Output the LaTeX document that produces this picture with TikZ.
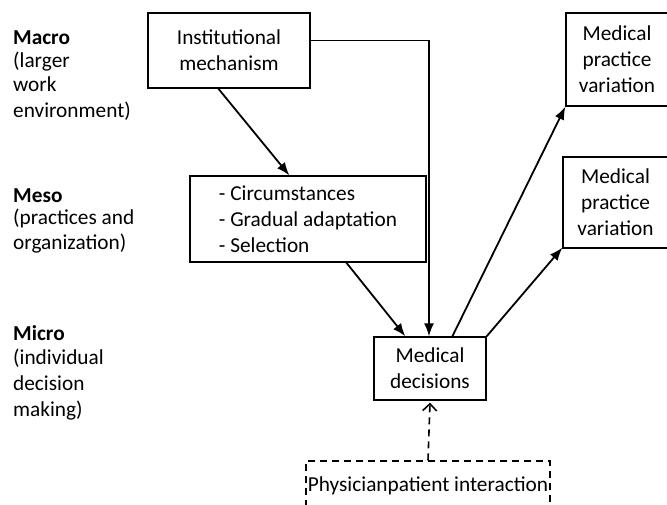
\documentclass[tikz,border=0pt]{standalone}
\usepackage{fontspec}
\setmainfont{Carlito}
\usetikzlibrary{arrows.meta}
\begin{document}
\begin{tikzpicture}[x=1pt,y=-1pt,
  txt/.style={font=\fontsize{21.3}{26}\selectfont, text=black},
  box/.style={txt, draw, line width=1.3pt, inner sep=0pt, align=center},
  lbl/.style={txt, anchor=base west, inner sep=0pt},
  arr/.style={line width=1.8pt, -{Latex[length=13pt,width=10pt]}},
  dasharr/.style={line width=1.6pt, dash pattern=on 7pt off 5pt, -{Straight Barb[length=7pt,width=14pt,line width=1.6pt]}},
]
\useasboundingbox (0,0) rectangle (667,505);
% left labels
\node[lbl] (macro) at (13,45) {\bfseries Macro};
\node[lbl] (macro2) at (13,68) {(larger};
\node[lbl] (macro3) at (13,92) {work};
\node[lbl] (macro4) at (13,118) {environment)};
\node[lbl] (meso) at (13,203) {\bfseries Meso};
\node[lbl] (meso2) at (13,225) {(practices and};
\node[lbl] (meso3) at (13,250) {organization)};
\node[lbl] (micro) at (13,341) {\bfseries Micro};
\node[lbl] (micro2) at (13,364) {(individual};
\node[lbl] (micro3) at (13,390) {decision};
\node[lbl] (micro4) at (13,416) {making)};
% boxes
\node[box, minimum width=162pt, minimum height=75pt] (inst) at (229,50.5) {Institutional\\mechanism};
\node[box, align=left, minimum width=236pt, minimum height=86pt] (mesobox) at (308,219) {- Circumstances\\- Gradual adaptation\\- Selection};
\node[box, minimum width=112pt, minimum height=63pt] (md) at (430,368.5) {Medical\\decisions};
\node[box, minimum width=102pt, minimum height=93pt] (r1) at (617,59.5) {Medical\\practice\\variation};
\node[box, minimum width=105pt, minimum height=91pt] (r2) at (615.5,202.5) {Medical\\practice\\variation};
\node[box, dash pattern=on 7pt off 5pt, minimum width=244pt, minimum height=49pt] (pp) at (428,485.5) {Physicianpatient interaction};
% connectors
\draw[arr] ([xshift=71pt]inst.south west) -- ([xshift=100pt]mesobox.north west);
\draw[arr] ([yshift=10pt]inst.east) -| ([xshift=-1pt]md.north);
\draw[arr] ([xshift=157pt]mesobox.south west) -- ([xshift=32pt]md.north west);
\draw[arr] ([xshift=79pt]md.north west) -- (r1.south west);
\draw[arr] (md.north east) -- ([yshift=1pt]r2.south west);
\draw[dasharr] (pp.north) -- ([yshift=-2pt]md.south);
\end{tikzpicture}
\end{document}
